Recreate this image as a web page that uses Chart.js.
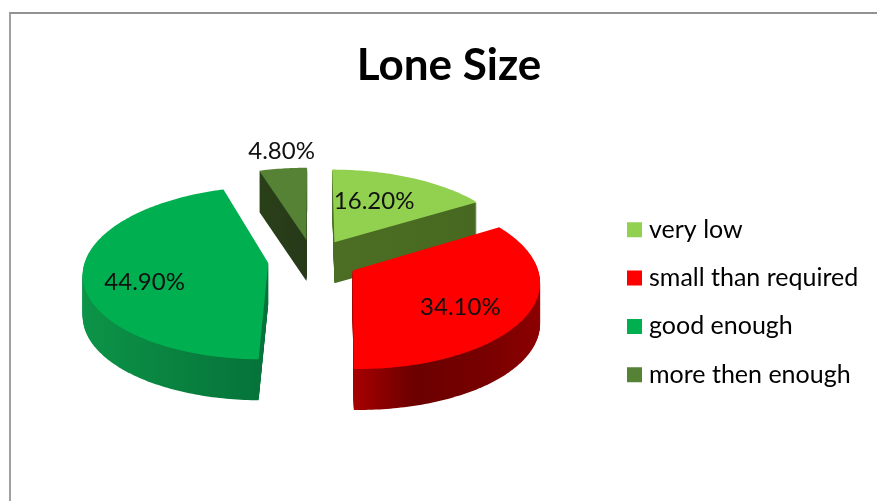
<!DOCTYPE html>
<html>
<head>
<meta charset="utf-8">
<title>Lone Size</title>
<script src="https://cdn.jsdelivr.net/npm/chart.js@4"></script>
<style>
 html, body { margin: 0; background: #fff; overflow: hidden; }
 #wrap { position: relative; width: 877px; height: 501px; }
 #frame { position: absolute; left: 9px; top: 12px; right: 0; bottom: 0; border-left: 2px solid #a0a0a0; border-top: 2px solid #929292; }
 canvas { position: absolute; left: 0; top: 0; }
</style>
</head>
<body>
<div id="wrap">
 <div id="frame"></div>
 <canvas id="chart" width="877" height="501"></canvas>
</div>
<script>
const categories = ["very low", "small than required", "good enough", "more then enough"];
const shares = [16.2, 34.1, 44.9, 4.8];
const sliceColors = ["#92d050", "#ff0000", "#00b050", "#558235"];
// side wall colours, left to right across each slice
const sideColors = [
 ["#4c6e24", "#476820"],
 ["#a80000", "#6b0000", "#760000", "#8c0000"],
 ["#0c9448", "#09823f", "#05723a"],
 ["#2a4018", "#26391a"]
];
const drawOrder = [3, 0, 2, 1];
// label placement, angle from 12 o'clock and distance from the slice tip (1 = rim)
const labelAngles = [24.5, 126.5, 251.7, 352.6];
const labelRadii = [0.585, 0.676, 0.685, 1.277];

const tilt = 0.463;
const perspective = 0.114;
const depth = 41;

function project(cx, cy, R, ux, uy) {
 const s = 1 / (1 - perspective * uy);
 return { x: cx + R * ux * s, y: cy + R * tilt * uy * s };
}

function sliceOutline(arc) {
 const R = arc.outerRadius;
 const a0 = arc.startAngle + Math.PI / 2;
 const a1 = arc.endAngle + Math.PI / 2;
 const mid = (a0 + a1) / 2;
 const d = arc.options.offset / 4 / R;
 const ox = Math.sin(mid) * d;
 const oy = -Math.cos(mid) * d;
 const pts = [project(arc.x, arc.y, R, ox, oy)];
 const steps = Math.ceil((a1 - a0) * 180 / Math.PI);
 for (let i = 0; i <= steps; i++) {
  const a = a0 + (a1 - a0) * i / steps;
  pts.push(project(arc.x, arc.y, R, ox + Math.sin(a), oy - Math.cos(a)));
 }
 return { pts, ox, oy };
}

function fillPath(ctx, pts, dy, fill) {
 ctx.beginPath();
 pts.forEach((p, i) => i ? ctx.lineTo(p.x, p.y + dy) : ctx.moveTo(p.x, p.y + dy));
 ctx.closePath();
 ctx.fillStyle = fill;
 ctx.fill();
}

const pie3d = {
 id: "pie3d",
 afterLayout(chart) {
  // pie centre and blocks, the title is centred over the whole frame
  const area = chart.chartArea;
  area.left = 16; area.right = 610; area.top = 100; area.bottom = 420;
  chart.legend.left = 632.5 - chart.options.plugins.legend.labels.padding;
  chart.legend.top = 194;
  chart.titleBlock.left += 10.5;
  chart.titleBlock.right += 10.5;
 },
 beforeDatasetDraw(chart) {
  const ctx = chart.ctx;
  const arcs = chart.getDatasetMeta(0).data;
  drawOrder.forEach(i => {
   const { pts } = sliceOutline(arcs[i]);
   const xs = pts.map(p => p.x);
   const grad = ctx.createLinearGradient(Math.min(...xs), 0, Math.max(...xs), 0);
   sideColors[i].forEach((c, n) => grad.addColorStop(n / (sideColors[i].length - 1), c));
   for (let dy = depth; dy > 0; dy--) fillPath(ctx, pts, dy, grad);
   fillPath(ctx, pts, 0, sliceColors[i]);
  });
  ctx.save();
  ctx.font = "24px Lato";
  ctx.fillStyle = "#111";
  ctx.textAlign = "center";
  ctx.textBaseline = "middle";
  arcs.forEach((arc, i) => {
   const { ox, oy } = sliceOutline(arc);
   const a = labelAngles[i] * Math.PI / 180;
   const p = project(arc.x, arc.y, arc.outerRadius, ox + Math.sin(a) * labelRadii[i], oy - Math.cos(a) * labelRadii[i]);
   ctx.fillText(shares[i].toFixed(2) + "%", p.x, p.y);
  });
  ctx.restore();
  return false;
 }
};

new Chart(document.getElementById("chart"), {
 type: "pie",
 data: {
  labels: categories,
  datasets: [{
   data: shares,
   backgroundColor: sliceColors,
   borderWidth: 0,
   offset: 180,
   radius: 183
  }]
 },
 options: {
  responsive: false,
  animation: false,
  plugins: {
   title: {
    display: true,
    text: "Lone Size",
    color: "#000",
    font: { family: "Lato", size: 44, weight: "bold" },
    padding: { top: 39, bottom: 20 }
   },
   legend: {
    position: "right",
    align: "start",
    labels: {
     color: "#111",
     font: { family: "Lato", size: 25 },
     boxWidth: 4,
     boxHeight: 4,
     padding: 23.3,
     generateLabels: chart => categories.map((text, i) => ({
      text,
      fillStyle: sliceColors[i],
      strokeStyle: sliceColors[i],
      lineWidth: 11,
      index: i
     }))
    }
   },
   tooltip: { enabled: false }
  }
 },
 plugins: [pie3d]
});
</script>
</body>
</html>
